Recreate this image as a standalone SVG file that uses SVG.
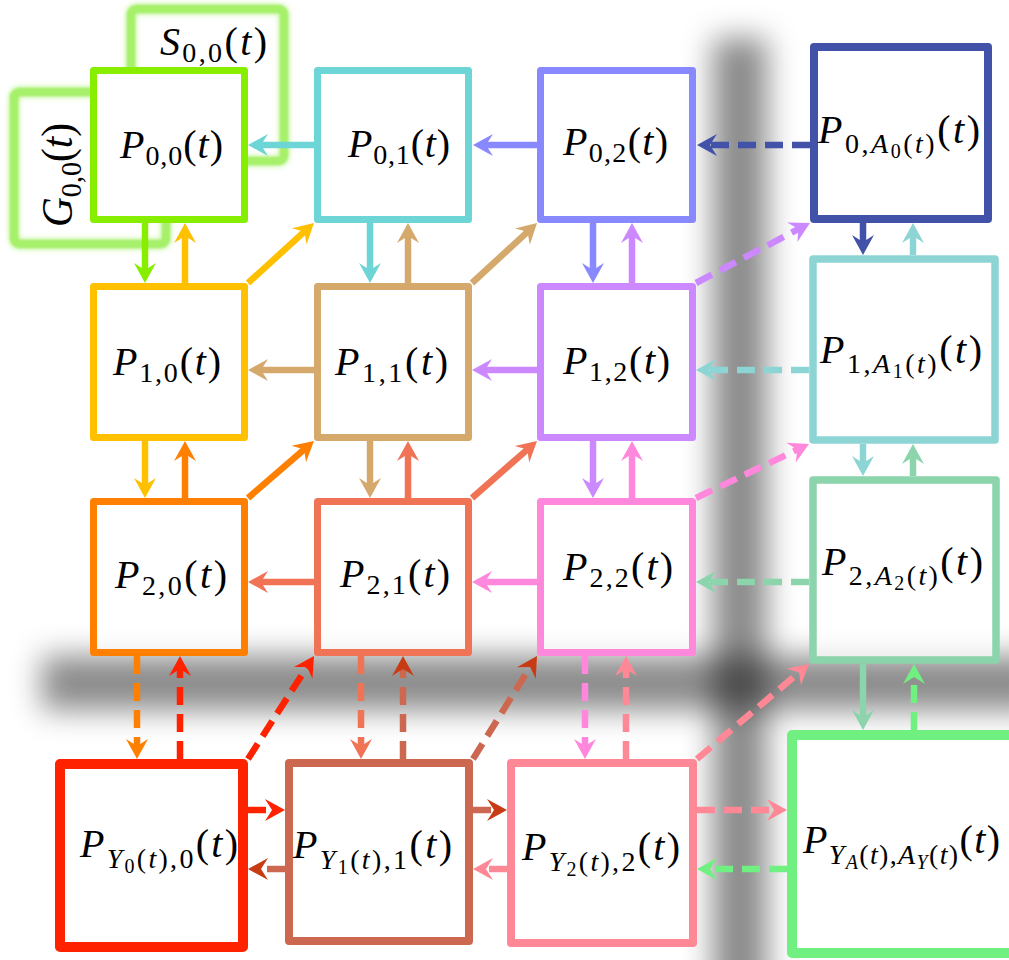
<svg xmlns="http://www.w3.org/2000/svg" width="1009" height="960" viewBox="0 0 1009 960" font-family="'Liberation Serif','Times New Roman',serif">
<style>
.t{font-family:"Liberation Serif","Times New Roman",serif;font-size:40px;fill:#000}
.i{font-style:italic}
.s{font-size:28px}
.ss{font-size:20px}
.box{fill:#fff;fill-opacity:0.72;stroke-width:7;stroke-linejoin:round}
.ln{fill:none;stroke-width:6.5}
.d{stroke-dasharray:18 9}
.glow{fill:none;stroke:#a6f06a;stroke-width:8;stroke-linejoin:round}
.c00{stroke:#88ee00}.c01{stroke:#6dd5d5}.c02{stroke:#8888ff}.cA0{stroke:#4152a8}
.c10{stroke:#ffc000}.c11{stroke:#d5a86c}.c12{stroke:#cc88ff}.cA1{stroke:#8dd5d5}
.c20{stroke:#ff8000}.c21{stroke:#f07355}.c22{stroke:#ff88dd}.cA2{stroke:#8cd4ac}
.cY0{stroke:#ff2200}.cY1{stroke:#cc6850}.cY2{stroke:#ff8896}.cYA{stroke:#70f080}
</style>
<defs>
<filter id="shblur" filterUnits="userSpaceOnUse" x="-80" y="-80" width="1170" height="1120"><feGaussianBlur stdDeviation="15"/></filter>
<filter id="glowf" x="-20%" y="-20%" width="140%" height="140%"><feGaussianBlur in="SourceGraphic" stdDeviation="3" result="b"/><feGaussianBlur in="SourceGraphic" stdDeviation="1" result="c"/><feMerge><feMergeNode in="b"/><feMergeNode in="c"/></feMerge></filter>
<marker id="a00" viewBox="-21 -12 22 24" refX="-10" refY="0" markerWidth="22" markerHeight="24" markerUnits="userSpaceOnUse" orient="auto"><path d="M0,0 L-20,-11 L-13,0 L-20,11 Z" fill="#88ee00"/></marker>
<marker id="a01" viewBox="-21 -12 22 24" refX="-10" refY="0" markerWidth="22" markerHeight="24" markerUnits="userSpaceOnUse" orient="auto"><path d="M0,0 L-20,-11 L-13,0 L-20,11 Z" fill="#6dd5d5"/></marker>
<marker id="a02" viewBox="-21 -12 22 24" refX="-10" refY="0" markerWidth="22" markerHeight="24" markerUnits="userSpaceOnUse" orient="auto"><path d="M0,0 L-20,-11 L-13,0 L-20,11 Z" fill="#8888ff"/></marker>
<marker id="aA0" viewBox="-21 -12 22 24" refX="-10" refY="0" markerWidth="22" markerHeight="24" markerUnits="userSpaceOnUse" orient="auto"><path d="M0,0 L-20,-11 L-13,0 L-20,11 Z" fill="#4152a8"/></marker>
<marker id="a10" viewBox="-21 -12 22 24" refX="-10" refY="0" markerWidth="22" markerHeight="24" markerUnits="userSpaceOnUse" orient="auto"><path d="M0,0 L-20,-11 L-13,0 L-20,11 Z" fill="#ffc000"/></marker>
<marker id="a11" viewBox="-21 -12 22 24" refX="-10" refY="0" markerWidth="22" markerHeight="24" markerUnits="userSpaceOnUse" orient="auto"><path d="M0,0 L-20,-11 L-13,0 L-20,11 Z" fill="#d5a86c"/></marker>
<marker id="a12" viewBox="-21 -12 22 24" refX="-10" refY="0" markerWidth="22" markerHeight="24" markerUnits="userSpaceOnUse" orient="auto"><path d="M0,0 L-20,-11 L-13,0 L-20,11 Z" fill="#cc88ff"/></marker>
<marker id="aA1" viewBox="-21 -12 22 24" refX="-10" refY="0" markerWidth="22" markerHeight="24" markerUnits="userSpaceOnUse" orient="auto"><path d="M0,0 L-20,-11 L-13,0 L-20,11 Z" fill="#8dd5d5"/></marker>
<marker id="a20" viewBox="-21 -12 22 24" refX="-10" refY="0" markerWidth="22" markerHeight="24" markerUnits="userSpaceOnUse" orient="auto"><path d="M0,0 L-20,-11 L-13,0 L-20,11 Z" fill="#ff8000"/></marker>
<marker id="a21" viewBox="-21 -12 22 24" refX="-10" refY="0" markerWidth="22" markerHeight="24" markerUnits="userSpaceOnUse" orient="auto"><path d="M0,0 L-20,-11 L-13,0 L-20,11 Z" fill="#f07355"/></marker>
<marker id="a22" viewBox="-21 -12 22 24" refX="-10" refY="0" markerWidth="22" markerHeight="24" markerUnits="userSpaceOnUse" orient="auto"><path d="M0,0 L-20,-11 L-13,0 L-20,11 Z" fill="#ff88dd"/></marker>
<marker id="aA2" viewBox="-21 -12 22 24" refX="-10" refY="0" markerWidth="22" markerHeight="24" markerUnits="userSpaceOnUse" orient="auto"><path d="M0,0 L-20,-11 L-13,0 L-20,11 Z" fill="#8cd4ac"/></marker>
<marker id="aY0" viewBox="-21 -12 22 24" refX="-10" refY="0" markerWidth="22" markerHeight="24" markerUnits="userSpaceOnUse" orient="auto"><path d="M0,0 L-20,-11 L-13,0 L-20,11 Z" fill="#ff2200"/></marker>
<marker id="aY1" viewBox="-21 -12 22 24" refX="-10" refY="0" markerWidth="22" markerHeight="24" markerUnits="userSpaceOnUse" orient="auto"><path d="M0,0 L-20,-11 L-13,0 L-20,11 Z" fill="#c83c15"/></marker>
<marker id="aY2" viewBox="-21 -12 22 24" refX="-10" refY="0" markerWidth="22" markerHeight="24" markerUnits="userSpaceOnUse" orient="auto"><path d="M0,0 L-20,-11 L-13,0 L-20,11 Z" fill="#ff8896"/></marker>
<marker id="aYA" viewBox="-21 -12 22 24" refX="-10" refY="0" markerWidth="22" markerHeight="24" markerUnits="userSpaceOnUse" orient="auto"><path d="M0,0 L-20,-11 L-13,0 L-20,11 Z" fill="#70f080"/></marker>
</defs>
<rect width="1009" height="960" fill="#fff"/>
<g id="shadows" filter="url(#shblur)">
<rect x="713" y="38" width="54" height="960" fill="#000" fill-opacity="0.46"/>
<rect x="42" y="656" width="1000" height="54" fill="#000" fill-opacity="0.46"/>
</g>
<g id="S00" filter="url(#glowf)"><rect class="glow" x="131" y="9" width="153" height="152" rx="5"/></g>
<g id="G00" filter="url(#glowf)"><rect class="glow" x="14" y="92" width="152" height="152" rx="5"/></g>
<text class="t" x="160" y="55" textLength="107" lengthAdjust="spacing"><tspan class="i">S</tspan><tspan class="s" dy="7">0,0</tspan><tspan dy="-7">(</tspan><tspan class="i">t</tspan>)</text>
<text class="t" style="font-size:44px" transform="translate(72,227) rotate(-90)" textLength="104" lengthAdjust="spacingAndGlyphs"><tspan class="i">G</tspan><tspan style="font-size:30px" dy="9">0,0</tspan><tspan dy="-9">(</tspan><tspan class="i">t</tspan>)</text>

<g id="P00"><rect class="box c00" style="fill-opacity:1" x="93.5" y="70.5" width="151" height="149"/>
<text class="t" x="120" y="158" textLength="103" lengthAdjust="spacing"><tspan class="i">P</tspan><tspan class="s" dy="7">0,0</tspan><tspan dy="-7">(</tspan><tspan class="i">t</tspan>)</text></g>
<g id="P01"><rect class="box c01" x="317.5" y="70.5" width="151" height="149"/>
<text class="t" x="348" y="157" textLength="102" lengthAdjust="spacing"><tspan class="i">P</tspan><tspan class="s" dy="7">0,1</tspan><tspan dy="-7">(</tspan><tspan class="i">t</tspan>)</text></g>
<g id="P02"><rect class="box c02" x="540.5" y="70.5" width="152" height="149"/>
<text class="t" x="563" y="155" textLength="105" lengthAdjust="spacing"><tspan class="i">P</tspan><tspan class="s" dy="7">0,2</tspan><tspan dy="-7">(</tspan><tspan class="i">t</tspan>)</text></g>
<g id="PA0"><rect class="box cA0" style="stroke-width:8" x="814" y="47" width="174" height="172"/>
<text class="t" x="818" y="143" textLength="162" lengthAdjust="spacing"><tspan class="i">P</tspan><tspan class="s" dy="10">0,</tspan><tspan class="s i">A</tspan><tspan class="ss" dy="5">0</tspan><tspan class="s" dy="-5">(</tspan><tspan class="s i">t</tspan><tspan class="s">)</tspan><tspan dy="-10">(</tspan><tspan class="i">t</tspan>)</text></g>

<g id="P10"><rect class="box c10" x="93.5" y="286.5" width="151" height="151"/>
<text class="t" x="113" y="375" textLength="108" lengthAdjust="spacing"><tspan class="i">P</tspan><tspan class="s" dy="7">1,0</tspan><tspan dy="-7">(</tspan><tspan class="i">t</tspan>)</text></g>
<g id="P11"><rect class="box c11" x="317.5" y="286.5" width="151" height="151"/>
<text class="t" x="335" y="375" textLength="113" lengthAdjust="spacing"><tspan class="i">P</tspan><tspan class="s" dy="7">1,1</tspan><tspan dy="-7">(</tspan><tspan class="i">t</tspan>)</text></g>
<g id="P12"><rect class="box c12" x="540.5" y="286.5" width="152" height="151"/>
<text class="t" x="563" y="374" textLength="107" lengthAdjust="spacing"><tspan class="i">P</tspan><tspan class="s" dy="7">1,2</tspan><tspan dy="-7">(</tspan><tspan class="i">t</tspan>)</text></g>
<g id="PA1"><rect class="box cA1" style="stroke-width:7.5" x="813" y="259" width="182" height="181"/>
<text class="t" x="820" y="363" textLength="162" lengthAdjust="spacing"><tspan class="i">P</tspan><tspan class="s" dy="10">1,</tspan><tspan class="s i">A</tspan><tspan class="ss" dy="5">1</tspan><tspan class="s" dy="-5">(</tspan><tspan class="s i">t</tspan><tspan class="s">)</tspan><tspan dy="-10">(</tspan><tspan class="i">t</tspan>)</text></g>

<g id="P20"><rect class="box c20" x="93.5" y="501.5" width="151" height="151"/>
<text class="t" x="115" y="588" textLength="112" lengthAdjust="spacing"><tspan class="i">P</tspan><tspan class="s" dy="7">2,0</tspan><tspan dy="-7">(</tspan><tspan class="i">t</tspan>)</text></g>
<g id="P21"><rect class="box c21" x="317.5" y="501.5" width="151" height="151"/>
<text class="t" x="340" y="587" textLength="110" lengthAdjust="spacing"><tspan class="i">P</tspan><tspan class="s" dy="7">2,1</tspan><tspan dy="-7">(</tspan><tspan class="i">t</tspan>)</text></g>
<g id="P22"><rect class="box c22" x="540.5" y="501.5" width="152" height="151"/>
<text class="t" x="563" y="580" textLength="110" lengthAdjust="spacing"><tspan class="i">P</tspan><tspan class="s" dy="7">2,2</tspan><tspan dy="-7">(</tspan><tspan class="i">t</tspan>)</text></g>
<g id="PA2"><rect class="box cA2" style="stroke-width:7.5" x="813" y="480" width="183" height="180"/>
<text class="t" x="822" y="575" textLength="161" lengthAdjust="spacing"><tspan class="i">P</tspan><tspan class="s" dy="10">2,</tspan><tspan class="s i">A</tspan><tspan class="ss" dy="5">2</tspan><tspan class="s" dy="-5">(</tspan><tspan class="s i">t</tspan><tspan class="s">)</tspan><tspan dy="-10">(</tspan><tspan class="i">t</tspan>)</text></g>

<g id="PY0"><rect class="box cY0" style="stroke-width:10" x="60" y="764" width="183" height="183"/>
<text class="t" x="80" y="857" textLength="158" lengthAdjust="spacing"><tspan class="i">P</tspan><tspan class="s i" dy="11">Y</tspan><tspan class="ss" dy="5">0</tspan><tspan class="s" dy="-5">(</tspan><tspan class="s i">t</tspan><tspan class="s">),0</tspan><tspan dy="-11">(</tspan><tspan class="i">t</tspan>)</text></g>
<g id="PY1"><rect class="box cY1" style="stroke-width:8" x="289" y="763" width="180" height="178"/>
<text class="t" x="293" y="858" textLength="159" lengthAdjust="spacing"><tspan class="i">P</tspan><tspan class="s i" dy="11">Y</tspan><tspan class="ss" dy="5">1</tspan><tspan class="s" dy="-5">(</tspan><tspan class="s i">t</tspan><tspan class="s">),1</tspan><tspan dy="-11">(</tspan><tspan class="i">t</tspan>)</text></g>
<g id="PY2"><rect class="box cY2" style="stroke-width:8" x="511" y="763" width="182" height="180"/>
<text class="t" x="522" y="860" textLength="158" lengthAdjust="spacing"><tspan class="i">P</tspan><tspan class="s i" dy="11">Y</tspan><tspan class="ss" dy="5">2</tspan><tspan class="s" dy="-5">(</tspan><tspan class="s i">t</tspan><tspan class="s">),2</tspan><tspan dy="-11">(</tspan><tspan class="i">t</tspan>)</text></g>
<g id="PYA"><rect class="box cYA" style="stroke-width:10" x="792" y="735" width="240" height="218"/>
<text class="t" x="803" y="853" textLength="197" lengthAdjust="spacing"><tspan class="i">P</tspan><tspan class="s i" dy="11">Y</tspan><tspan class="ss i" dy="5">A</tspan><tspan class="s" dy="-5">(</tspan><tspan class="s i">t</tspan><tspan class="s">),</tspan><tspan class="s i">A</tspan><tspan class="ss i" dy="5">Y</tspan><tspan class="s" dy="-5">(</tspan><tspan class="s i">t</tspan><tspan class="s">)</tspan><tspan dy="-11">(</tspan><tspan class="i">t</tspan>)</text></g>

<g id="connectors" class="ln">
<line class="c01" x1="314" y1="145" x2="258" y2="145" marker-end="url(#a01)"/>
<line class="c02" x1="537" y1="145" x2="483" y2="145" marker-end="url(#a02)"/>
<line class="cA0 d" x1="810" y1="145" x2="707" y2="145" marker-end="url(#aA0)"/>
<line class="c11" x1="314" y1="370" x2="258" y2="370" marker-end="url(#a11)"/>
<line class="c12" x1="537" y1="370" x2="482" y2="370" marker-end="url(#a12)"/>
<line class="cA1 d" x1="809" y1="370" x2="706" y2="370" marker-end="url(#aA1)"/>
<line class="c21" x1="314" y1="582" x2="258" y2="582" marker-end="url(#a21)"/>
<line class="c22" x1="537" y1="582" x2="482" y2="582" marker-end="url(#a22)"/>
<line class="cA2 d" x1="809" y1="582" x2="706" y2="582" marker-end="url(#aA2)"/>
<line class="cY0 d" x1="248" y1="810" x2="275" y2="810" marker-end="url(#aY0)"/>
<line class="cY1 d" x1="285" y1="869" x2="258" y2="869" marker-end="url(#aY1)"/>
<line class="cY1 d" x1="473" y1="810" x2="497" y2="810" marker-end="url(#aY1)"/>
<line class="cY2 d" x1="507" y1="869" x2="483" y2="869" marker-end="url(#aY2)"/>
<line class="cY2 d" x1="697" y1="810" x2="777" y2="810" marker-end="url(#aY2)"/>
<line class="cYA d" x1="787" y1="869" x2="707" y2="869" marker-end="url(#aYA)"/>
<line class="c00" x1="145" y1="223" x2="145" y2="273" marker-end="url(#a00)"/>
<line class="c10" x1="185" y1="283" x2="185" y2="233" marker-end="url(#a10)"/>
<line class="c01" x1="370" y1="223" x2="370" y2="273" marker-end="url(#a01)"/>
<line class="c11" x1="408" y1="283" x2="408" y2="233" marker-end="url(#a11)"/>
<line class="c02" x1="593" y1="223" x2="593" y2="273" marker-end="url(#a02)"/>
<line class="c12" x1="632" y1="283" x2="632" y2="233" marker-end="url(#a12)"/>
<line class="cA0" x1="863" y1="223" x2="863" y2="245" marker-end="url(#aA0)"/>
<line class="cA1" x1="913" y1="255" x2="913" y2="233" marker-end="url(#aA1)"/>
<line class="c10" x1="145" y1="441" x2="145" y2="488" marker-end="url(#a10)"/>
<line class="c20" x1="185" y1="498" x2="185" y2="451" marker-end="url(#a20)"/>
<line class="c11" x1="370" y1="441" x2="370" y2="488" marker-end="url(#a11)"/>
<line class="c21" x1="408" y1="498" x2="408" y2="451" marker-end="url(#a21)"/>
<line class="c12" x1="593" y1="441" x2="593" y2="488" marker-end="url(#a12)"/>
<line class="c22" x1="632" y1="498" x2="632" y2="451" marker-end="url(#a22)"/>
<line class="cA1" x1="863" y1="444" x2="863" y2="466" marker-end="url(#aA1)"/>
<line class="cA2" x1="913" y1="476" x2="913" y2="454" marker-end="url(#aA2)"/>
<line class="c20 d" x1="137" y1="656" x2="137" y2="749" marker-end="url(#a20)"/>
<line class="cY0 d" x1="180" y1="759" x2="180" y2="666" marker-end="url(#aY0)"/>
<line class="c21 d" x1="361" y1="656" x2="361" y2="749" marker-end="url(#a21)"/>
<line class="cY1 d" x1="403" y1="759" x2="403" y2="666" marker-end="url(#aY1)"/>
<line class="c22 d" x1="585" y1="656" x2="585" y2="749" marker-end="url(#a22)"/>
<line class="cY2 d" x1="626" y1="759" x2="626" y2="666" marker-end="url(#aY2)"/>
<line class="cA2" x1="863" y1="664" x2="863" y2="720" marker-end="url(#aA2)"/>
<line class="cYA d" x1="914" y1="730" x2="914" y2="674" marker-end="url(#aYA)"/>
<line class="c10" x1="248" y1="283" x2="306.6" y2="229.7" marker-end="url(#a10)"/>
<line class="c11" x1="472" y1="283" x2="529.7" y2="229.8" marker-end="url(#a11)"/>
<line class="c12 d" x1="696" y1="283" x2="801.1" y2="227.7" marker-end="url(#a12)"/>
<line class="c20" x1="248" y1="498" x2="306.4" y2="447.5" marker-end="url(#a20)"/>
<line class="c21" x1="472" y1="498" x2="529.5" y2="447.6" marker-end="url(#a21)"/>
<line class="c22 d" x1="696" y1="498" x2="800" y2="448.3" marker-end="url(#a22)"/>
<line class="cY0 d" x1="248" y1="759" x2="308.6" y2="664.4" marker-end="url(#aY0)"/>
<line class="cY1 d" x1="473" y1="759" x2="531.7" y2="664.5" marker-end="url(#aY1)"/>
<line class="cY2 d" x1="697" y1="759" x2="801.4" y2="670.5" marker-end="url(#aY2)"/>
</g>
</svg>
